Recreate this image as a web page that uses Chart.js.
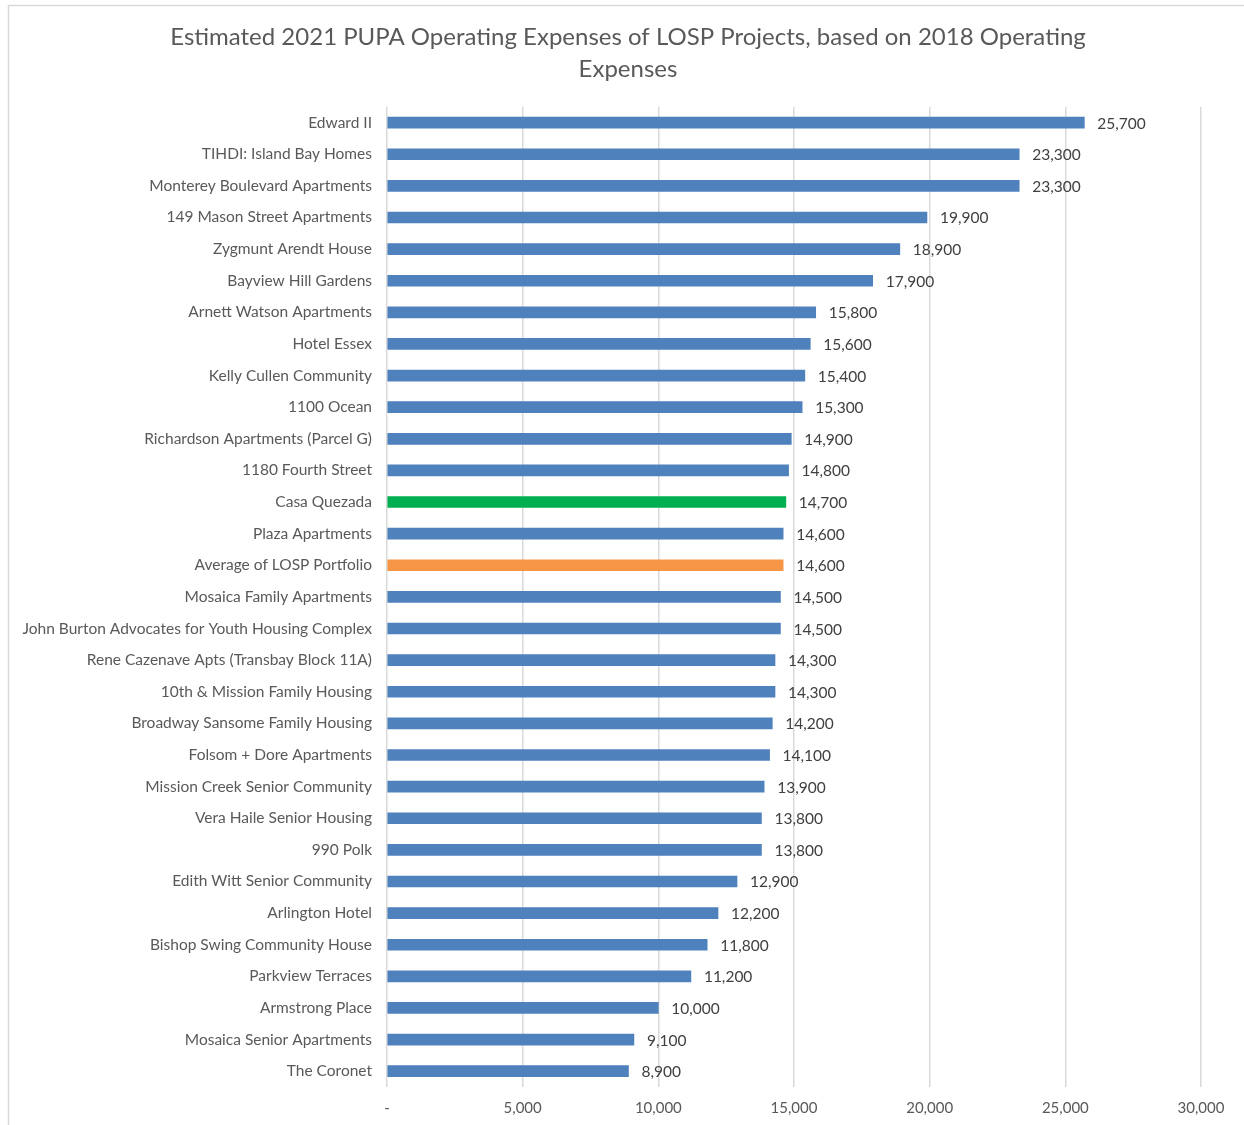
<!DOCTYPE html>
<html>
<head>
<meta charset="utf-8">
<script src="https://cdn.jsdelivr.net/npm/chart.js@4.4.0/dist/chart.umd.min.js"></script>
<style>
  body { margin: 0; background: #fff; }
  canvas { display: block; }
</style>
</head>
<body>
<canvas id="chart" width="1244" height="1125"></canvas>
<script>
const titleLines = ['Estimated 2021 PUPA Operating Expenses of LOSP Projects, based on 2018 Operating', 'Expenses'];

const categories = [
    'Edward II',
    'TIHDI: Island Bay Homes',
    'Monterey Boulevard Apartments',
    '149 Mason Street Apartments',
    'Zygmunt Arendt House',
    'Bayview Hill Gardens',
    'Arnett Watson Apartments',
    'Hotel Essex',
    'Kelly Cullen Community',
    '1100 Ocean',
    'Richardson Apartments (Parcel G)',
    '1180 Fourth Street',
    'Casa Quezada',
    'Plaza Apartments',
    'Average of LOSP Portfolio',
    'Mosaica Family Apartments',
    'John Burton Advocates for Youth Housing Complex',
    'Rene Cazenave Apts (Transbay Block 11A)',
    '10th & Mission Family Housing',
    'Broadway Sansome Family Housing',
    'Folsom + Dore Apartments',
    'Mission Creek Senior Community',
    'Vera Haile Senior Housing',
    '990 Polk',
    'Edith Witt Senior Community',
    'Arlington Hotel',
    'Bishop Swing Community House',
    'Parkview Terraces',
    'Armstrong Place',
    'Mosaica Senior Apartments',
    'The Coronet'
];

const values = [
    25700, 23300, 23300, 19900, 18900, 17900, 15800, 15600, 15400, 15300,
    14900, 14800, 14700, 14600, 14600, 14500, 14500, 14300, 14300, 14200,
    14100, 13900, 13800, 13800, 12900, 12200, 11800, 11200, 10000, 9100, 8900
];

const xTicks = [0, 5000, 10000, 15000, 20000, 25000, 30000];

// special bars
const highlightBars = {
    'Casa Quezada': '#00B050',
    'Average of LOSP Portfolio': '#F79646'
};
const baseColor = '#4F81BD';

const fontFamily = 'Lato, "Open Sans", sans-serif';

function fmt(v) {
    return v === 0 ? '-' : v.toLocaleString('en-US');
}

const frame = {
    id: 'frame',
    beforeDraw(chart) {
        const c = chart.ctx;
        c.save();
        c.fillStyle = '#fff';
        c.fillRect(0, 0, chart.width, chart.height);
        c.strokeStyle = '#d9d9d9';
        c.lineWidth = 1.5;
        c.strokeRect(8.5, 5.5, chart.width + 20, chart.height + 20);
        c.restore();
    }
};

const valueLabels = {
    id: 'valueLabels',
    afterDatasetsDraw(chart) {
        const c = chart.ctx;
        const meta = chart.getDatasetMeta(0);
        c.save();
        c.font = '15.5px ' + fontFamily;
        c.fillStyle = '#404040';
        c.textAlign = 'left';
        c.textBaseline = 'middle';
        meta.data.forEach((bar, i) => {
            c.fillText(fmt(values[i]), bar.x + 13, bar.y + 1);
        });
        c.restore();
    }
};

const chart = new Chart(document.getElementById('chart'), {
    type: 'bar',
    data: {
        labels: categories,
        datasets: [{
            data: values,
            backgroundColor: categories.map(n => highlightBars[n] || baseColor),
            barThickness: 11
        }]
    },
    options: {
        indexAxis: 'y',
        responsive: false,
        animation: false,
        devicePixelRatio: 1,
        layout: {
            padding: {left: 12, right: 0, top: 0, bottom: 8}
        },
        plugins: {
            legend: {display: false},
            tooltip: {enabled: false},
            title: {
                display: true,
                text: titleLines,
                color: '#595959',
                font: {family: fontFamily, size: 24, weight: 'normal', lineHeight: 1.35},
                padding: {top: 21, bottom: 21}
            }
        },
        scales: {
            x: {
                min: 0,
                max: 30000,
                afterBuildTicks(scale) {
                    scale.ticks = xTicks.map(v => ({value: v}));
                },
                afterFit(scale) {
                    scale.height = 30;
                    scale.paddingRight = 43;
                },
                grid: {color: '#d9d9d9', lineWidth: 1.5, drawTicks: false},
                border: {display: false},
                ticks: {
                    color: '#595959',
                    font: {family: fontFamily, size: 15},
                    padding: 12,
                    maxRotation: 0,
                    callback: v => fmt(v)
                }
            },
            y: {
                grid: {display: false, drawTicks: false},
                border: {display: false},
                ticks: {
                    color: '#595959',
                    font: {family: fontFamily, size: 15.5},
                    padding: 15,
                    autoSkip: false
                },
                afterFit(scale) {
                    scale.width = 387 - 12;
                }
            }
        }
    },
    plugins: [frame, valueLabels]
});
</script>
</body>
</html>
